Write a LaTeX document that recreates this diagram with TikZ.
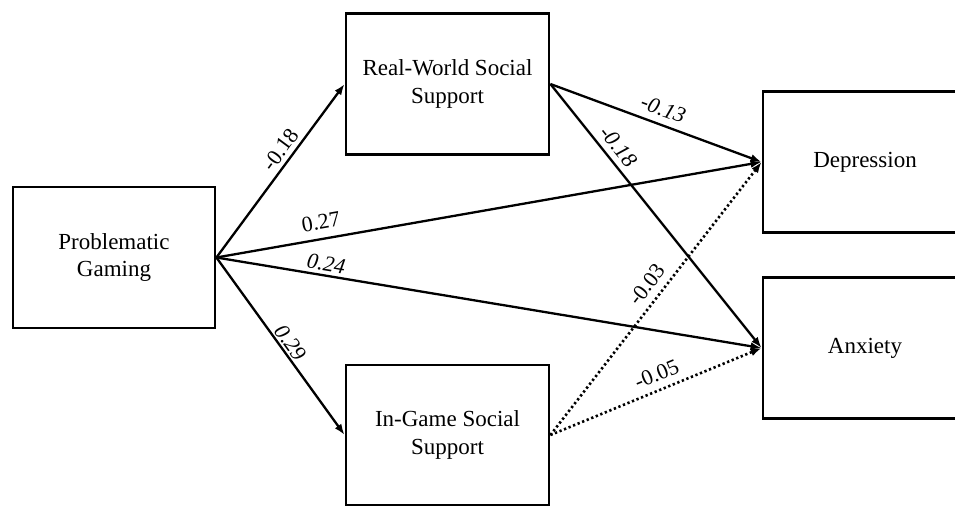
\documentclass[tikz,border=0pt]{standalone}
\usepackage{fontspec}
\setmainfont{Liberation Serif}
\usetikzlibrary{arrows.meta}
\begin{document}
\begin{tikzpicture}[x=1pt,y=-1pt,
  box/.style={draw, line width=2.8pt, minimum width=202pt, minimum height=141pt, align=center, inner sep=0pt, font=\fontsize{23}{27.5}\selectfont},
  solidpath/.style={line width=2.3pt, -{Latex[length=11pt,width=8pt]}},
  dotpath/.style={line width=2.6pt, dash pattern=on 2.3pt off 2.6pt, -{Latex[length=11pt,width=8pt]}},
  coef/.style={font=\fontsize{22}{22}\selectfont, inner sep=0pt, sloped}]
\clip (0,0) rectangle (955,507);
\fill[white] (0,0) rectangle (955,507);
\node[box] (pg) at (114,257.5) {Problematic\\Gaming};
\node[box, minimum width=203pt] (rw) at (447.5,84) {Real-World Social\\Support};
\node[box, minimum width=203pt, minimum height=140pt] (ig) at (447.5,435) {In-Game Social\\Support};
\node[box, minimum width=204pt] (dep) at (865,162) {Depression};
\node[box, minimum width=204pt] (anx) at (865,348) {Anxiety};
\draw[solidpath] (pg.east) -- node[coef, above=4pt, pos=0.58] {-0.18} (rw.west);
\draw[solidpath] (pg.east) -- node[coef, above=8pt, pos=0.197] {0.27} (dep.west);
\draw[solidpath] (pg.east) -- node[coef, above=3pt, pos=0.198] {\textit{0.24}} (anx.west);
\draw[solidpath] (pg.east) -- node[coef, above=2pt, pos=0.514] {\textit{0.29}} (ig.west);
\draw[solidpath] (rw.east) -- node[coef, above=7pt, pos=0.509] {\textit{-0.13}} (dep.west);
\draw[solidpath] (rw.east) -- node[coef, above=5.5pt, pos=0.27] {\textit{-0.18}} (anx.west);
\draw[dotpath] (ig.east) -- node[coef, above=7pt, pos=0.516] {-0.03} (dep.west);
\draw[dotpath] (ig.east) -- node[coef, above=7pt, pos=0.531] {-0.05} (anx.west);
\end{tikzpicture}
\end{document}
